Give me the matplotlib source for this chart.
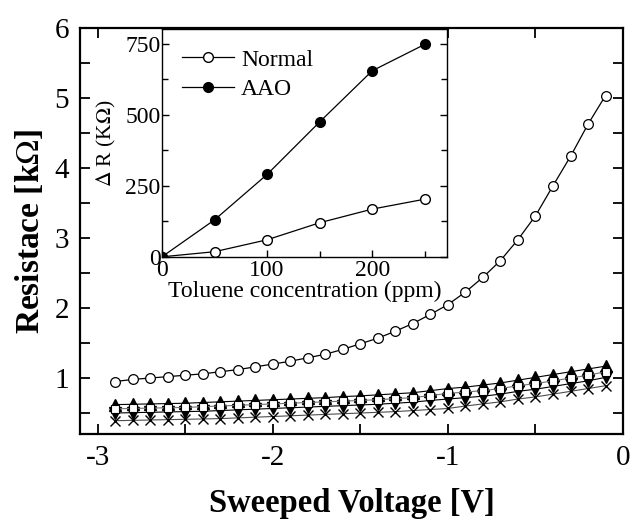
import numpy as np
import matplotlib.pyplot as plt
from matplotlib.ticker import MultipleLocator

plt.rcParams['font.family'] = ['Liberation Serif', 'DejaVu Serif']
plt.rcParams['mathtext.fontset'] = 'stix'

# main panel: resistance vs sweeped voltage
volt = [-2.9, -2.8, -2.7, -2.6, -2.5, -2.4, -2.3, -2.2, -2.1, -2.0,
        -1.9, -1.8, -1.7, -1.6, -1.5, -1.4, -1.3, -1.2, -1.1, -1.0,
        -0.9, -0.8, -0.7, -0.6, -0.5, -0.4, -0.3, -0.2, -0.1]
r_normal = [0.95, 0.98, 1.00, 1.02, 1.04, 1.06, 1.09, 1.12, 1.16, 1.20,
            1.24, 1.29, 1.34, 1.41, 1.49, 1.57, 1.67, 1.78, 1.91, 2.05,
            2.23, 2.44, 2.68, 2.98, 3.32, 3.75, 4.17, 4.63, 5.04]
r_square = [0.56, 0.565, 0.57, 0.575, 0.58, 0.59, 0.60, 0.61, 0.62, 0.63,
            0.64, 0.65, 0.66, 0.67, 0.68, 0.69, 0.705, 0.72, 0.75, 0.78,
            0.80, 0.82, 0.85, 0.89, 0.92, 0.96, 1.00, 1.04, 1.09]
r_up = [0.62, 0.625, 0.63, 0.635, 0.64, 0.65, 0.66, 0.67, 0.68, 0.69,
        0.70, 0.71, 0.72, 0.735, 0.745, 0.76, 0.775, 0.79, 0.82, 0.85,
        0.87, 0.90, 0.93, 0.97, 1.01, 1.05, 1.09, 1.13, 1.17]
r_down = [0.50, 0.505, 0.51, 0.515, 0.52, 0.525, 0.535, 0.545, 0.555, 0.565,
          0.575, 0.585, 0.595, 0.605, 0.615, 0.625, 0.64, 0.655, 0.68, 0.70,
          0.72, 0.74, 0.77, 0.81, 0.84, 0.88, 0.92, 0.96, 1.01]
r_cross = [0.39, 0.395, 0.40, 0.405, 0.41, 0.415, 0.42, 0.43, 0.44, 0.45,
           0.46, 0.47, 0.48, 0.49, 0.50, 0.51, 0.52, 0.535, 0.55, 0.565,
           0.60, 0.63, 0.66, 0.70, 0.73, 0.77, 0.81, 0.85, 0.89]

# inset: delta R vs toluene concentration
conc = [0, 50, 100, 150, 200, 250]
dr_normal = [0, 18, 60, 120, 168, 203]
dr_aao = [0, 130, 290, 475, 655, 748]

fig = plt.figure(figsize=(6.3, 5.22), dpi=100)
ax = fig.add_axes([0.127, 0.1686, 0.862, 0.777])

ax.plot(volt, r_cross, color='0.3', lw=0.8, marker='x', ms=7, mec='k', mew=1.0)
ax.plot(volt, r_down, color='k', lw=0.8, marker='v', ms=8, mfc='k', mec='k')
ax.plot(volt, r_up, color='k', lw=0.8, marker='^', ms=8, mfc='k', mec='k')
ax.plot(volt, r_square, color='0.45', lw=0.8, marker='s', ms=6, mfc='white', mec='k', mew=0.8)
ax.plot(volt, r_normal, color='k', lw=0.9, marker='o', ms=7, mfc='white', mec='k', mew=0.9)

ax.set_xlim(-3.1, 0)
ax.set_ylim(0.2, 6)
ax.xaxis.set_major_locator(MultipleLocator(1))
ax.xaxis.set_minor_locator(MultipleLocator(0.5))
ax.yaxis.set_major_locator(MultipleLocator(1))
ax.yaxis.set_minor_locator(MultipleLocator(0.5))
ax.tick_params(which='both', direction='in', top=True, right=True, width=1.3)
ax.tick_params(which='major', length=7, labelsize=21, pad=8)
ax.tick_params(which='minor', length=7)
for s in ax.spines.values():
    s.set_linewidth(1.6)
ax.xaxis.set_major_formatter(plt.FuncFormatter(lambda v, p: '%d' % v))
ax.set_xlabel('Sweeped Voltage [V]', fontsize=23.5, fontweight='bold', labelpad=12)
ax.set_ylabel('Resistace [k$\\Omega$]', fontsize=24, fontweight='bold', labelpad=6)

ins = fig.add_axes([0.257, 0.508, 0.4525, 0.4365])
ins.plot(conc, dr_normal, color='k', lw=0.9, marker='o', ms=7, mfc='white', mec='k', label='Normal')
ins.plot(conc, dr_aao, color='k', lw=0.9, marker='o', ms=7, mfc='k', mec='k', label='AAO')
ins.set_xlim(0, 271)
ins.set_ylim(0, 802)
ins.xaxis.set_major_locator(MultipleLocator(100))
ins.xaxis.set_minor_locator(MultipleLocator(50))
ins.yaxis.set_major_locator(MultipleLocator(250))
ins.yaxis.set_minor_locator(MultipleLocator(125))
ins.tick_params(which='both', direction='in', right=True, width=1.0)
ins.tick_params(which='major', length=5, labelsize=17, pad=2)
ins.tick_params(which='minor', length=4)
ins.tick_params(axis='y', pad=1)
for s in ins.spines.values():
    s.set_linewidth(1.0)
ins.set_xlabel('Toluene concentration (ppm)', fontsize=17, labelpad=0)
ins.set_ylabel('$\\Delta$ R (K$\\Omega$)', fontsize=15.5, labelpad=5)
ins.legend(loc='upper left', frameon=False, fontsize=17, handlelength=2.2,
           handletextpad=0.3, borderaxespad=0.45, borderpad=0.4, labelspacing=0.35)

fig.savefig('out.png', dpi=100)
